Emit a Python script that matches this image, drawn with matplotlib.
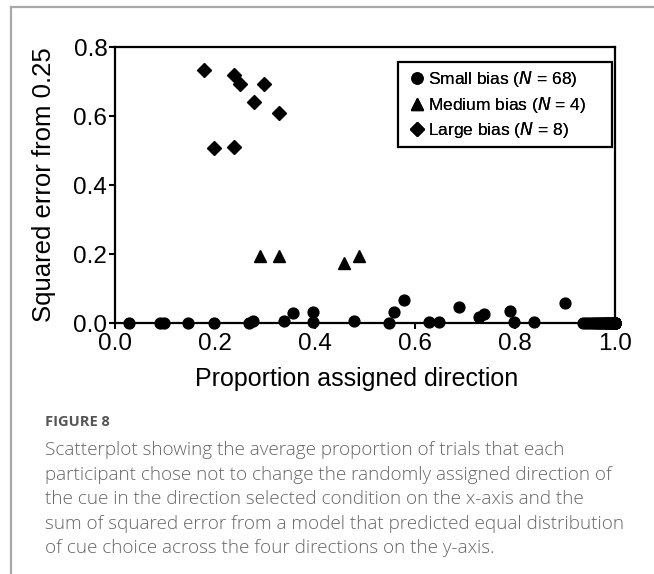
import matplotlib
matplotlib.use("Agg")
import matplotlib.pyplot as plt
from matplotlib.lines import Line2D
from matplotlib.patches import Rectangle

plt.rcParams["font.family"] = ["Liberation Sans", "DejaVu Sans"]

# Proportion assigned direction (x) and squared error from 0.25 (y)
small_x = [0.028, 0.089, 0.097, 0.145, 0.197, 0.267, 0.275, 0.337, 0.355,
           0.395, 0.395, 0.477, 0.547, 0.558, 0.577, 0.627, 0.647, 0.687,
           0.727, 0.738, 0.789, 0.797, 0.838, 0.899,
           0.936, 0.942, 0.948, 0.953, 0.957, 0.961, 0.965, 0.968, 0.971,
           0.974, 0.977, 0.979, 0.981, 0.983, 0.985, 0.987, 0.989, 0.991,
           0.993, 0.995, 0.997, 1.0, 1.0, 1.0, 1.0, 1.0, 1.0, 1.0, 1.0,
           1.0, 1.0, 1.0, 1.0, 1.0, 1.0, 1.0, 1.0, 1.0, 1.0, 1.0, 1.0,
           1.0, 1.0, 1.0]
small_y = [0.0, 0.0, 0.0, 0.0, 0.0, 0.0, 0.006, 0.006, 0.028,
           0.033, 0.004, 0.006, 0.0, 0.033, 0.068, 0.003, 0.003, 0.045,
           0.016, 0.027, 0.036, 0.003, 0.003, 0.057,
           0.0, 0.0, 0.0, 0.0, 0.0, 0.0, 0.0, 0.0, 0.0,
           0.0, 0.0, 0.0, 0.0, 0.0, 0.0, 0.0, 0.0, 0.0,
           0.0, 0.0, 0.0, 0.0, 0.0, 0.0, 0.0, 0.0, 0.0, 0.0, 0.0,
           0.0, 0.0, 0.0, 0.0, 0.0, 0.0, 0.0, 0.0, 0.0, 0.0, 0.0, 0.0,
           0.0, 0.0, 0.0]

medium_x = [0.290, 0.328, 0.458, 0.487]
medium_y = [0.194, 0.194, 0.173, 0.195]

large_x = [0.177, 0.237, 0.249, 0.297, 0.277, 0.328, 0.198, 0.238]
large_y = [0.733, 0.719, 0.692, 0.693, 0.641, 0.610, 0.506, 0.511]

x_ticks = [0.0, 0.2, 0.4, 0.6, 0.8, 1.0]
y_ticks = [0.0, 0.2, 0.4, 0.6, 0.8]

legend_labels = [r"Small bias ($\it{N}$ = 68)",
                 r"Medium bias ($\it{N}$ = 4)",
                 r"Large bias ($\it{N}$ = 8)"]

caption_title = "FIGURE 8"
caption_lines = [
    "Scatterplot showing the average proportion of trials that each",
    "participant chose not to change the randomly assigned direction of",
    "the cue in the direction selected condition on the x-axis and the",
    "sum of squared error from a model that predicted equal distribution",
    "of cue choice across the four directions on the y-axis.",
]

W, H = 654, 574
fig = plt.figure(figsize=(W / 100, H / 100), dpi=100)

# page frame (top and left edges)
frame_color = "#a8a8a8"
fig.add_artist(Line2D([11 / W, 1.0], [1 - 7 / H, 1 - 7 / H],
                      transform=fig.transFigure, color=frame_color, lw=1.6))
fig.add_artist(Line2D([11 / W, 11 / W], [0.0, 1 - 7 / H],
                      transform=fig.transFigure, color=frame_color, lw=1.6))

ax = fig.add_axes([115 / W, 1 - 323 / H, 500 / W, 276 / H])

ax.plot(small_x, small_y, "o", color="black", ms=7.8, clip_on=False, zorder=3)
ax.plot(medium_x, medium_y, "^", color="black", ms=9, clip_on=False, zorder=3)
ax.plot(large_x, large_y, "D", color="black", ms=7, clip_on=False, zorder=3)

ax.set_xlim(0, 1.0)
ax.set_ylim(0, 0.8)
ax.set_xticks(x_ticks)
ax.set_yticks(y_ticks)
ax.set_xticklabels([f"{v:.1f}" for v in x_ticks])
ax.set_yticklabels([f"{v:.1f}" for v in y_ticks])
ax.tick_params(direction="out", length=4, width=1.5, labelsize=17.5,
               colors="black")
ax.tick_params(axis="x", pad=3)
ax.tick_params(axis="y", pad=1.5)
for s in ax.spines.values():
    s.set_linewidth(1.6)
    s.set_color("black")

ax.set_xlabel("Proportion assigned direction", fontsize=18)
ax.xaxis.set_label_coords(0.484, -0.158)
ax.set_ylabel("Squared error from 0.25", fontsize=18.5)
ax.yaxis.set_label_coords(-0.118, 0.5)

handles = [
    Line2D([], [], marker="o", ls="none", color="black", ms=8),
    Line2D([], [], marker="^", ls="none", color="black", ms=9),
    Line2D([], [], marker="D", ls="none", color="black", ms=7),
]
leg = ax.legend(handles, legend_labels, loc="upper left",
                bbox_to_anchor=(405 / W, 1 - 64 / H),
                bbox_transform=fig.transFigure,
                fontsize=12.5, frameon=False,
                handlelength=0.8, handletextpad=0.25,
                borderpad=0.3, labelspacing=0.32, borderaxespad=0)
ax.add_artist(leg)
# legend box
fig.add_artist(Rectangle((398 / W, 1 - 147 / H), 214 / W, 85 / H,
                         transform=fig.transFigure, fill=False,
                         edgecolor="black", lw=1.6, zorder=5))

cap_color = "#555555"
fig.text(45 / W, 1 - 422 / H, caption_title, fontsize=10.5, color=cap_color,
         fontweight="bold", family=["Open Sans", "DejaVu Sans"], va="center")
for i, line in enumerate(caption_lines):
    fig.text(45 / W, 1 - (450 + 24.6 * i) / H, line, fontsize=13.6,
             color="#666666", family=["Open Sans", "DejaVu Sans"],
             fontweight="light", va="center")

fig.savefig("out.png", dpi=100)
